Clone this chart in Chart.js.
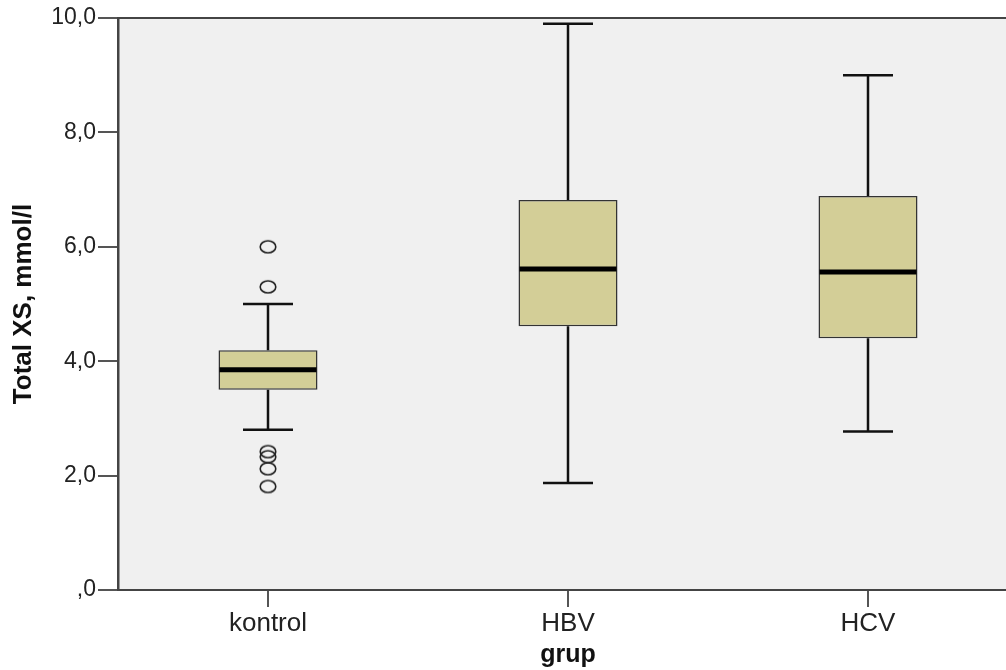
<!DOCTYPE html>
<html>
<head>
<meta charset="utf-8">
<script src="https://cdn.jsdelivr.net/npm/chart.js@4/dist/chart.umd.min.js"></script>
<style>
  html, body { margin: 0; padding: 0; background: #fff; overflow: hidden; }
  #wrap { width: 1030px; height: 670px; }
</style>
</head>
<body>
<div id="wrap"><canvas id="chart_box"></canvas></div>
<script>
// groups and box statistics (Total XS, mmol/l)
var groups = ['kontrol', 'HBV', 'HCV']
var whisker_low = [2.8, 1.87, 2.77]
var q1 = [3.5, 4.61, 4.40]
var medians = [3.85, 5.61, 5.56]
var q3 = [4.19, 6.82, 6.89]
var whisker_high = [5.0, 9.9, 9.0]

// outliers
var outlier_group = ['kontrol', 'kontrol', 'kontrol', 'kontrol', 'kontrol', 'kontrol']
var outlier_value = [6.0, 5.3, 2.42, 2.33, 2.12, 1.81]

var y_ticks = [0, 2, 4, 6, 8, 10]

function fmt(v) {
  if (v === 0) return ',0'
  return v.toFixed(1).replace('.', ',')
}

// SPSS style outlier marker: slightly flattened circle
var ring = document.createElement('canvas')
ring.width = 20
ring.height = 16
var rctx = ring.getContext('2d')
rctx.strokeStyle = '#222'
rctx.lineWidth = 1.6
rctx.beginPath()
rctx.ellipse(10, 8, 7.8, 6, 0, 0, Math.PI * 2)
rctx.stroke()

// plot background + top border
var frame = {
  id: 'frame',
  beforeDraw: function (chart) {
    var a = chart.chartArea, ctx = chart.ctx
    ctx.save()
    ctx.fillStyle = '#f0f0f0'
    ctx.fillRect(a.left, a.top, a.right - a.left, a.bottom - a.top)
    ctx.restore()
  },
  afterDraw: function (chart) {
    var a = chart.chartArea, ctx = chart.ctx
    ctx.save()
    ctx.strokeStyle = '#444'
    ctx.lineWidth = 2
    ctx.beginPath()
    ctx.moveTo(a.left, a.top)
    ctx.lineTo(a.right, a.top)
    ctx.stroke()
    ctx.restore()
  }
}

// whiskers and medians on top of the floating bars
var boxparts = {
  id: 'boxparts',
  afterDatasetsDraw: function (chart) {
    var x = chart.scales.x, y = chart.scales.y, ctx = chart.ctx
    var cap = 25
    ctx.save()
    groups.forEach(function (g, i) {
      var cx = x.getPixelForValue(i)
      var bar = chart.getDatasetMeta(0).data[i]
      var half = bar.width / 2
      ctx.strokeStyle = '#111'
      ctx.lineWidth = 2.5
      ctx.beginPath()
      ctx.moveTo(cx, y.getPixelForValue(q3[i]))
      ctx.lineTo(cx, y.getPixelForValue(whisker_high[i]))
      ctx.moveTo(cx, y.getPixelForValue(q1[i]))
      ctx.lineTo(cx, y.getPixelForValue(whisker_low[i]))
      ctx.moveTo(cx - cap, y.getPixelForValue(whisker_high[i]))
      ctx.lineTo(cx + cap, y.getPixelForValue(whisker_high[i]))
      ctx.moveTo(cx - cap, y.getPixelForValue(whisker_low[i]))
      ctx.lineTo(cx + cap, y.getPixelForValue(whisker_low[i]))
      ctx.stroke()
      ctx.strokeStyle = '#000'
      ctx.lineWidth = 5
      ctx.beginPath()
      ctx.moveTo(cx - half + 1, y.getPixelForValue(medians[i]))
      ctx.lineTo(cx + half - 1, y.getPixelForValue(medians[i]))
      ctx.stroke()
    })
    ctx.restore()
  }
}

var chart_box = document.getElementById('chart_box').getContext('2d')

var mychart = new Chart(chart_box, {
  type: 'bar',
  data: {
    labels: groups,
    datasets: [{
      label: 'box',
      data: groups.map(function (g, i) { return [q1[i], q3[i]] }),
      backgroundColor: '#d3ce97',
      borderColor: '#333',
      borderWidth: 1.5,
      borderSkipped: false,
      barPercentage: 0.33,
      categoryPercentage: 1,
      order: 2
    }, {
      type: 'line',
      label: 'outliers',
      data: outlier_value.map(function (v, i) { return {x: outlier_group[i], y: v} }),
      showLine: false,
      pointStyle: ring,
      pointRadius: 7,
      order: 1
    }]
  },
  options: {
    responsive: true,
    maintainAspectRatio: false,
    animation: false,
    layout: { padding: { top: 18, right: 12, left: 0, bottom: 0 } },
    plugins: {
      legend: { display: false },
      tooltip: { enabled: false },
      title: { display: false }
    },
    scales: {
      x: {
        offset: true,
        afterFit: function (s) { s.height = 80 },
        grid: { display: true, drawOnChartArea: false, drawTicks: true, tickLength: 17, color: '#555', lineWidth: 2, offset: false },
        border: { display: true, color: '#444', width: 2 },
        ticks: { color: '#222', padding: 1, font: { family: 'Liberation Sans, Arial', size: 26 } },
        title: { display: true, text: 'grup', color: '#111', padding: { top: -2, bottom: 0 }, font: { family: 'Liberation Sans, Arial', size: 25, weight: 'bold' } }
      },
      y: {
        min: 0,
        max: 10,
        afterFit: function (s) { s.width = 118 },
        afterBuildTicks: function (s) { s.ticks = y_ticks.map(function (v) { return {value: v} }) },
        grid: { display: true, drawOnChartArea: false, drawTicks: true, tickLength: 20, color: '#555', lineWidth: 2 },
        border: { display: true, color: '#444', width: 2.5 },
        ticks: { color: '#222', padding: 2, callback: function (v) { return fmt(v) }, font: { family: 'Liberation Sans, Arial', size: 23 } },
        title: { display: true, text: 'Total XS, mmol/l', color: '#111', padding: { top: 8, bottom: 0 }, font: { family: 'Liberation Sans, Arial', size: 26, weight: 'bold' } }
      }
    }
  },
  plugins: [frame, boxparts]
})
</script>
</body>
</html>
